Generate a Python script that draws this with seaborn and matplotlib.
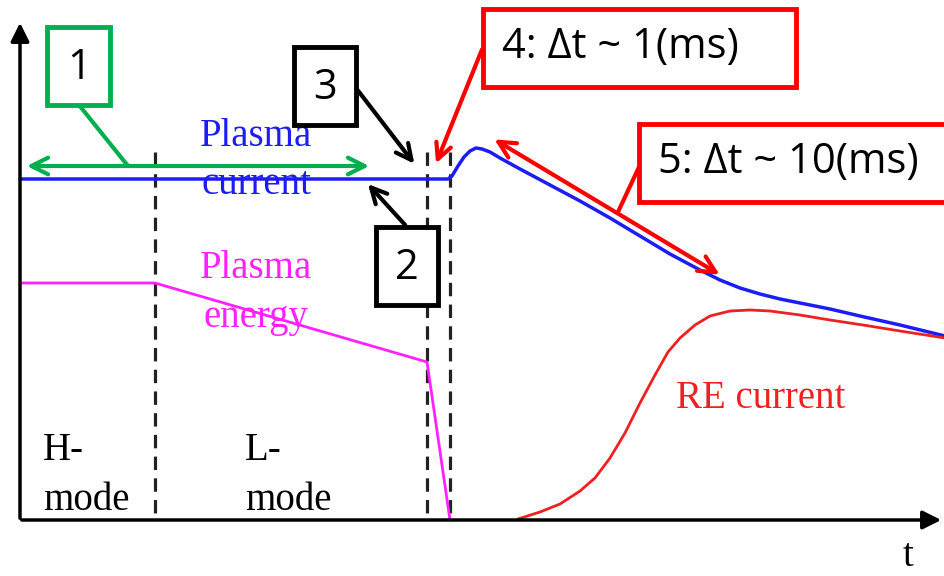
import matplotlib
matplotlib.use("Agg")
import matplotlib.pyplot as plt
import seaborn as sns
from matplotlib.patches import Rectangle

# ------------------------------
# DATA (pixel coords, y grows downward)
# ------------------------------
current_x = [20, 448, 452, 458, 464, 470, 476, 482, 490, 500, 520, 550, 580, 610,
             640, 670, 700, 720, 740, 760, 780, 800, 830, 860, 900, 945]
current_y = [179, 179, 176, 166, 157, 151, 148, 149, 152, 158, 169, 185, 201, 218,
             236, 254, 270, 280, 288, 294, 299, 303, 309, 316, 325, 336]

energy_x = [20, 155, 427, 450]
energy_y = [283, 283, 362, 520]

re_x = [518, 540, 560, 580, 595, 610, 625, 640, 655, 668, 680, 695, 710, 730,
        750, 770, 800, 830, 863, 900, 945]
re_y = [519, 512, 504, 491, 478, 458, 433, 403, 375, 352, 338, 325, 316, 311,
        310, 311, 315, 320, 325, 331, 338]

boundaries = [155, 427, 450]

# ------------------------------
# STYLE
# ------------------------------
sns.set_style("white")
plt.rcParams["font.family"] = ["Open Sans", "DejaVu Sans"]

SERIF = ["Liberation Serif", "DejaVu Serif"]
SANS = ["Open Sans", "DejaVu Sans"]
BLUE = "#1c1cf5"
MAGENTA = "#ff22ff"
RED = "#ff0000"
GREEN = "#00b050"
SERIF_SIZE = 28
BOX_SIZE = 30

fig = plt.figure(figsize=(9.45, 5.76), dpi=100)
ax = fig.add_axes([0, 0, 1, 1])
ax.set_xlim(0, 945)
ax.set_ylim(576, 0)
ax.axis("off")

# axes arrows
ax.annotate("", xy=(20, 20), xytext=(20, 521), annotation_clip=False,
            arrowprops=dict(arrowstyle="-|>", lw=2.5, color="black", mutation_scale=28))
ax.annotate("", xy=(944, 520), xytext=(19, 520), annotation_clip=False,
            arrowprops=dict(arrowstyle="-|>", lw=2.5, color="black", mutation_scale=28))

# phase boundaries
ax.vlines(boundaries, 152, 520, colors="#222222", lw=2.3, linestyles=(0, (4.2, 2.6)))

# curves
sns.lineplot(x=current_x, y=current_y, color=BLUE, lw=2.5, ax=ax,
             estimator=None, sort=False)
sns.lineplot(x=energy_x, y=energy_y, color=MAGENTA, lw=2, ax=ax,
             estimator=None, sort=False)
sns.lineplot(x=re_x, y=re_y, color="#ee2020", lw=2, ax=ax,
             estimator=None, sort=False)

# curve labels
def label(x, y, s, color, ha="center"):
    ax.text(x, y, s, color=color, fontsize=SERIF_SIZE, family=SERIF, ha=ha, va="center")

label(256, 136, "Plasma", BLUE)
label(256, 185, "current", BLUE)
label(256, 268, "Plasma", MAGENTA)
label(256, 317, "energy", MAGENTA)
label(676, 399, "RE current", "#ee2020", ha="left")
label(43, 451, "H-", "black", ha="left")
label(43, 500, "mode", "black", ha="left")
label(245, 451, "L-", "black", ha="left")
label(245, 500, "mode", "black", ha="left")
label(908, 556, "t", "black")

# ------------------------------
# CALLOUT BOXES
# ------------------------------
def box(x0, y0, x1, y1, color, lw=3.5):
    ax.add_patch(Rectangle((x0, y0), x1 - x0, y1 - y0, fill=True, facecolor="white",
                           edgecolor=color, lw=lw, zorder=5))

def box_text(x, y, s, ha="center"):
    ax.text(x, y, s, fontsize=BOX_SIZE, family=SANS, color="black",
            ha=ha, va="center", zorder=6)

# 1 : green double arrow
ax.annotate("", xy=(24, 166), xytext=(372, 166),
            arrowprops=dict(arrowstyle="<->", lw=3, color=GREEN, mutation_scale=30))
ax.plot([79, 128], [105, 166], color=GREEN, lw=3)
box(47, 27, 110, 105, GREEN)
box_text(79, 68, "1")

# 3
ax.annotate("", xy=(416, 166), xytext=(356, 88),
            arrowprops=dict(arrowstyle="->", lw=3, color="black", mutation_scale=28))
box(294, 47, 356, 125, "black")
box_text(325, 88, "3")

# 2
ax.annotate("", xy=(366, 182), xytext=(407, 227),
            arrowprops=dict(arrowstyle="->", lw=3, color="black", mutation_scale=28))
box(376, 227, 438, 305, "black")
box_text(407, 268, "2")

# 4
ax.annotate("", xy=(435, 166), xytext=(483, 47),
            arrowprops=dict(arrowstyle="->", lw=3, color=RED, mutation_scale=28))
box(483, 9, 796, 87, RED)
box_text(502, 47, "4: \u0394t ~ 1(ms)", ha="left")

# 5
ax.annotate("", xy=(492, 138), xytext=(722, 276),
            arrowprops=dict(arrowstyle="<->", lw=3, color=RED, mutation_scale=30))
ax.plot([639, 618], [167, 212], color=RED, lw=3)
box(639, 124, 965, 202, RED)
box_text(658, 162, "5: \u0394t ~ 10(ms)", ha="left")

plt.savefig("out.png", dpi=100)
